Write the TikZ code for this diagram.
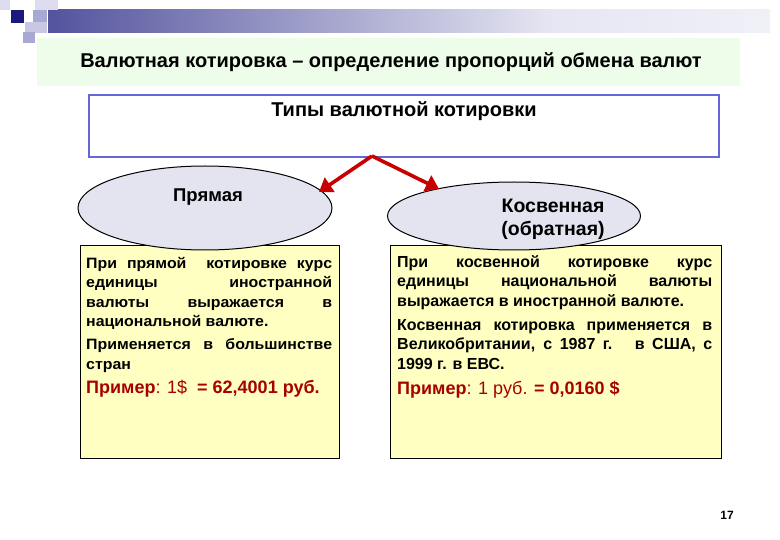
\documentclass[tikz,border=0pt]{standalone}
\usepackage{fontspec}
\setmainfont{Liberation Sans}
\usetikzlibrary{shapes.geometric,arrows.meta}
\definecolor{navy}{HTML}{1A1A7E}
\definecolor{lavA}{HTML}{DCDCEE}
\definecolor{lavB}{HTML}{A8A8D4}
\definecolor{lavC}{HTML}{C8C8E4}
\definecolor{titlegreen}{HTML}{EEFCEA}
\definecolor{boxblue}{HTML}{6666D8}
\definecolor{arrred}{HTML}{C80000}
\definecolor{ellfill}{HTML}{E4E4F0}
\definecolor{yellowbox}{HTML}{FFFFC2}
\definecolor{exred}{HTML}{A80000}
\pgfdeclarehorizontalshading{barshade}{100bp}{color(0bp)=(navy); color(25bp)=(navy!75!white); color(60bp)=(lavA!70!white); color(100bp)=(white)}
\newcommand\jl[2]{\makebox[#1][s]{#2}}
\newcommand\ljl[1]{\scalebox{1.06}[1]{\makebox[232pt][s]{#1}}}
\newcommand\lpl[1]{\scalebox{1.06}[1]{#1}}
\tikzset{
  yelbox/.style={draw=black, line width=0.8pt, fill=yellowbox},
  ellnode/.style={ellipse, draw=black, line width=1pt, fill=ellfill, inner sep=0pt},
  bodytxt/.style={anchor=north west, inner sep=0pt, align=left, font=\bfseries\fontsize{16}{19.7}\selectfont},
  lefttxt/.style={anchor=north west, inner sep=0pt, align=left, font=\bfseries\fontsize{15}{19.4}\selectfont},
  redarr/.style={draw=arrred, line width=3.6pt, -{Triangle[length=13pt,width=17pt]}},
}
\begin{document}
\begin{tikzpicture}[x=1pt,y=-1pt]
\useasboundingbox (0,0) rectangle (780,540);
\fill[white] (0,0) rectangle (780,540);
% decoration
\shade[shading=barshade] (48,10) rectangle (770,33);
\fill[lavA] (0,0) rectangle (10,10);
\fill[lavA] (35,0) rectangle (58,10);
\fill[navy] (11,10) rectangle (24,23);
\fill[lavB] (33,10) rectangle (47,25);
\fill[lavC] (25,22) rectangle (47,33);
\fill[lavB] (23,32) rectangle (35,43);
% title band
\fill[titlegreen] (37,38) rectangle (740,86);
\node[font=\bfseries\fontsize{20}{23}\selectfont] (title) at (391,62) {Валютная котировка – определение пропорций обмена валют};
% types box
\node[draw=boxblue, line width=2pt, fill=white, minimum width=630, minimum height=62, inner sep=0pt] (types) at (404,126) {};
\node[anchor=north, font=\bfseries\fontsize{20}{23}\selectfont, inner sep=0pt] (typestxt) at ([yshift=-7pt]types.north) {Типы валютной котировки};
% yellow boxes
\node[yelbox, minimum width=259, minimum height=213, inner sep=0pt, anchor=north west] (lbox) at (80,245) {};
\node[yelbox, minimum width=331, minimum height=213, inner sep=0pt, anchor=north west] (rbox) at (390,245) {};
% ellipses
\node[ellnode, minimum width=254, minimum height=84] (pr) at (205,208) {};
\node[ellnode, minimum width=253, minimum height=68] (kos) at (514,216) {};
\node[font=\bfseries\fontsize{18.5}{22}\selectfont] (prt) at (208,197) {Прямая};
\node[font=\bfseries\fontsize{19.5}{23}\selectfont, align=center] (kost) at (553,219) {Косвенная\\(обратная)};
% arrows
\coordinate (apex) at (372,156);
\coordinate (lt) at (319,192);
\coordinate (rt) at (439,189);
\draw[redarr] (apex) -- (lt);
\draw[redarr] (apex) -- (rt);
% left text
\node[lefttxt] (ltxt) at (86,257) {%
\ljl{При прямой \ котировке курс}\\
\ljl{единицы иностранной}\\
\ljl{валюты выражается в}\\
\lpl{национальной валюте.}\\[4pt]
\ljl{Применяется в большинстве}\\
\lpl{стран}\\[5pt]
{\color{exred}\fontsize{18}{21}\selectfont\textbf{Пример}\mdseries: 1\$ \ \bfseries= 62,4001 руб.}};
% right text
\node[bodytxt] (rtxt) at (397,255) {%
\jl{315pt}{При косвенной котировке курс}\\
\jl{315pt}{единицы национальной валюты}\\
выражается в иностранной валюте.\\[4pt]
\jl{315pt}{Косвенная котировка применяется в}\\
\jl{315pt}{Великобритании, с 1987 г. \ в США, с}\\
1999 г. в ЕВС.\\[5pt]
{\color{exred}\fontsize{18}{21}\selectfont\textbf{Пример}\mdseries: 1 руб. \bfseries= 0,0160 \$}};
\node[font=\bfseries\fontsize{12}{14}\selectfont] (pg) at (727,515) {17};
\end{tikzpicture}
\end{document}
